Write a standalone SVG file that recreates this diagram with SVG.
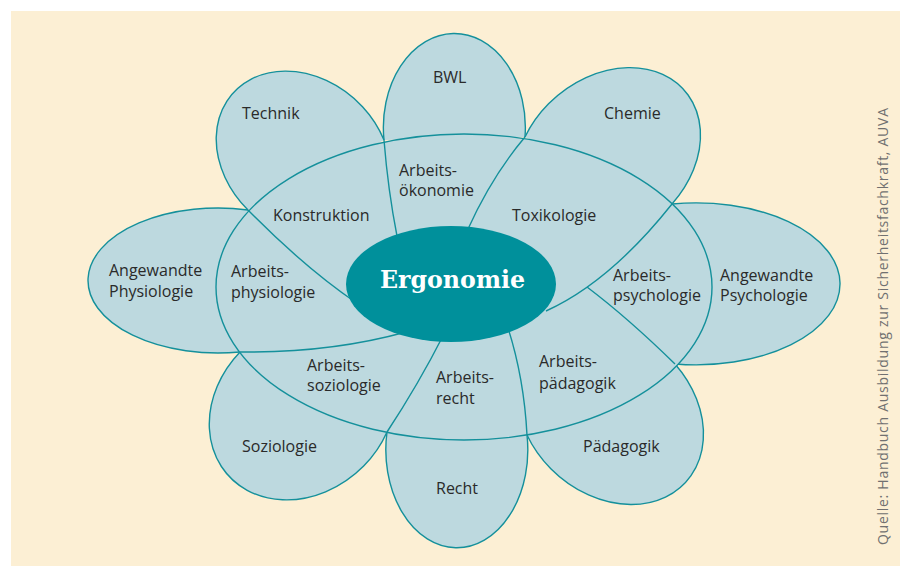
<svg xmlns="http://www.w3.org/2000/svg" width="900" height="566" viewBox="0 0 900 566">
<style>
.petal{fill:#BDD9DF;stroke:#14909B;stroke-width:1.4}
.ring{fill:#BDD9DF;stroke:#14909B;stroke-width:1.4}
.div{fill:none;stroke:#14909B;stroke-width:1.4}
.lbl{font-family:"Open Sans","Noto Sans","DejaVu Sans",sans-serif;font-size:16px;fill:#2a2a2a}
.src{font-family:"Open Sans","Noto Sans","DejaVu Sans",sans-serif;font-size:14px;fill:#707070}
.title{font-family:"DejaVu Serif","Liberation Serif",serif;font-weight:bold;font-size:25px;fill:#ffffff}
</style>
<rect width="900" height="566" fill="#ffffff"/>
<rect x="11" y="11" width="889" height="555" fill="#FCEFD4"/>

<g id="petal-bwl"><path class="petal" d="M384,140 A71,94 0 1 1 525,137"/><text class="lbl" x="433" y="83">BWL</text></g>
<g id="petal-chemie"><path class="petal" d="M525,137 A101,79 -40 1 1 672,204"/><text class="lbl" x="604" y="119">Chemie</text></g>
<g id="petal-psychologie"><path class="petal" d="M672,204 A144,81 0 1 1 675,364"/><text class="lbl" x="720" y="281">Angewandte</text><text class="lbl" x="720" y="301">Psychologie</text></g>
<g id="petal-paedagogik"><path class="petal" d="M675,364 A102,81 42 1 1 527,435"/><text class="lbl" x="583" y="452">Pädagogik</text></g>
<g id="petal-recht"><path class="petal" d="M527,435 A71,98 0 1 1 387,432"/><text class="lbl" x="436" y="494">Recht</text></g>
<g id="petal-soziologie"><path class="petal" d="M387,432 A100,84 -42 1 1 240,352"/><text class="lbl" x="242" y="452">Soziologie</text></g>
<g id="petal-physiologie"><path class="petal" d="M240,352 A130,72.5 0 1 1 248,210"/><text class="lbl" x="109" y="276">Angewandte</text><text class="lbl" x="109" y="297">Physiologie</text></g>
<g id="petal-technik"><path class="petal" d="M248,210 A95,77 42 1 1 384,140"/><text class="lbl" x="242" y="119">Technik</text></g>

<g id="ring"><ellipse class="ring" cx="464" cy="287" rx="248" ry="153"/></g>

<g id="connectors">
<path class="div" d="M248,210 Q305,268 358,304"/>
<path class="div" d="M384,140 Q388,190 397,236"/>
<path class="div" d="M525,137 Q492,176 468,229"/>
<path class="div" d="M672,204 Q610,282 546,311"/>
<path class="div" d="M675,364 Q628,318 587,287"/>
<path class="div" d="M527,435 Q524,378 508,328"/>
<path class="div" d="M387,432 Q418,385 444,334"/>
<path class="div" d="M240,352 Q330,353 406,332"/>
</g>

<g id="area-konstruktion"><text class="lbl" x="273" y="221">Konstruktion</text></g>
<g id="area-arbeitsoekonomie"><text class="lbl" x="399" y="176">Arbeits-</text><text class="lbl" x="399" y="196">ökonomie</text></g>
<g id="area-toxikologie"><text class="lbl" x="512" y="221">Toxikologie</text></g>
<g id="area-arbeitspsychologie"><text class="lbl" x="613" y="281">Arbeits-</text><text class="lbl" x="613" y="301">psychologie</text></g>
<g id="area-arbeitspaedagogik"><text class="lbl" x="539" y="367">Arbeits-</text><text class="lbl" x="539" y="389">pädagogik</text></g>
<g id="area-arbeitsrecht"><text class="lbl" x="436" y="383">Arbeits-</text><text class="lbl" x="436" y="404">recht</text></g>
<g id="area-arbeitssoziologie"><text class="lbl" x="307" y="371">Arbeits-</text><text class="lbl" x="307" y="391">soziologie</text></g>
<g id="area-arbeitsphysiologie"><text class="lbl" x="231" y="277">Arbeits-</text><text class="lbl" x="231" y="298">physiologie</text></g>

<g id="ergonomie"><ellipse cx="451" cy="284" rx="105" ry="58" fill="#00909B"/><text class="title" x="452.5" y="288" text-anchor="middle" textLength="145" lengthAdjust="spacingAndGlyphs">Ergonomie</text></g>

<text class="src" transform="translate(888,545) rotate(-90)" textLength="437">Quelle: Handbuch Ausbildung zur Sicherheitsfachkraft, AUVA</text>
</svg>
